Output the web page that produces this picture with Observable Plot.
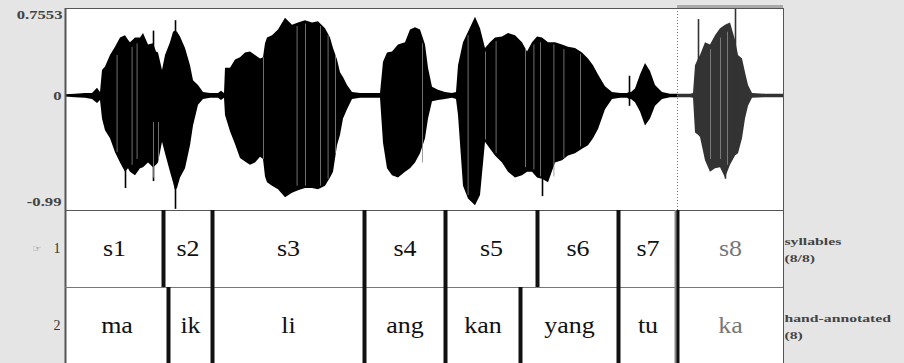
<!DOCTYPE html>
<html>
<head>
<meta charset="utf-8">
<script src="https://cdn.jsdelivr.net/npm/d3@7"></script>
<script src="https://cdn.jsdelivr.net/npm/@observablehq/plot@0.6"></script>
<style>
  html, body { margin: 0; padding: 0; background: #e5e5e5; overflow: hidden; }
  #chart { width: 904px; height: 363px; overflow: hidden; }
  #chart svg { display: block; }
</style>
</head>
<body>
<div id="chart"></div>
<script>
// ---------- data ----------
const totalDur = 3.59;          // seconds shown
const selStart = 3.06;          // selected interval start (s8)
const yMax = 0.7553, yMin = -0.99;
const yTickValues = [0.7553, 0, -0.99];
const yTickLabels = ["0.7553", "0", "-0.99"];

// waveform envelope (seconds, upper peak, lower peak)
const times = [0,0.05,0.10,0.135,0.16,0.175,0.185,0.20,0.225,0.25,0.275,0.30,0.315,0.325,0.35,0.375,0.39,0.415,0.44,0.455,0.465,0.485,0.50,0.525,0.54,0.55,0.56,0.575,0.60,0.625,0.64,0.665,0.69,0.725,0.765,0.78,0.795,0.80,0.825,0.85,0.875,0.90,0.925,0.95,0.975,0.99,1.00,1.01,1.035,1.065,1.10,1.135,1.165,1.20,1.235,1.265,1.30,1.325,1.34,1.36,1.375,1.39,1.41,1.435,1.475,1.525,1.575,1.59,1.61,1.635,1.665,1.70,1.725,1.75,1.775,1.80,1.815,1.835,1.865,1.90,1.935,1.955,1.965,1.99,2.015,2.05,2.075,2.10,2.125,2.15,2.185,2.215,2.25,2.285,2.31,2.335,2.36,2.385,2.415,2.45,2.485,2.515,2.55,2.585,2.615,2.64,2.665,2.70,2.735,2.775,2.81,2.82,2.83,2.85,2.875,2.90,2.925,2.95,2.985,3.025,3.06,3.075,3.125,3.14,3.15,3.165,3.175,3.20,3.225,3.25,3.275,3.30,3.325,3.35,3.365,3.385,3.40,3.415,3.435,3.50,3.59];
const upper = [0.01,0.015,0.02,0.02,0.066,0.03,0.22,0.25,0.35,0.42,0.50,0.52,0.48,0.46,0.50,0.50,0.54,0.44,0.45,0.38,0.37,0.22,0.35,0.46,0.55,0.56,0.55,0.51,0.41,0.26,0.13,0.09,0.03,0.02,0.02,0.04,0.02,0.24,0.24,0.31,0.33,0.37,0.38,0.35,0.32,0.33,0.45,0.50,0.52,0.57,0.67,0.61,0.63,0.65,0.63,0.64,0.58,0.50,0.41,0.31,0.20,0.16,0.09,0.03,0.02,0.02,0.02,0.29,0.37,0.38,0.44,0.46,0.57,0.59,0.57,0.44,0.24,0.075,0.05,0.03,0.02,0.03,0.26,0.46,0.55,0.68,0.58,0.41,0.46,0.50,0.51,0.54,0.52,0.46,0.38,0.46,0.51,0.50,0.46,0.46,0.44,0.42,0.41,0.37,0.32,0.26,0.18,0.08,0.03,0.02,0.02,0.03,0.03,0.06,0.18,0.28,0.21,0.09,0.03,0.015,0.015,0.015,0.015,0.02,0.26,0.32,0.35,0.46,0.44,0.52,0.58,0.61,0.63,0.48,0.35,0.32,0.20,0.09,0.02,0.015,0.015];
const lower = [-0.01,-0.015,-0.02,-0.03,-0.066,-0.04,-0.20,-0.30,-0.37,-0.49,-0.58,-0.66,-0.63,-0.66,-0.69,-0.63,-0.62,-0.58,-0.62,-0.60,-0.58,-0.40,-0.50,-0.66,-0.75,-0.82,-0.80,-0.71,-0.63,-0.43,-0.26,-0.08,-0.03,-0.02,-0.02,-0.04,-0.02,-0.17,-0.31,-0.42,-0.54,-0.57,-0.60,-0.58,-0.53,-0.55,-0.70,-0.75,-0.78,-0.81,-0.88,-0.84,-0.82,-0.80,-0.80,-0.81,-0.78,-0.71,-0.66,-0.43,-0.34,-0.20,-0.12,-0.03,-0.02,-0.02,-0.02,-0.41,-0.63,-0.69,-0.71,-0.66,-0.63,-0.58,-0.50,-0.37,-0.20,-0.05,-0.04,-0.03,-0.02,-0.03,-0.17,-0.78,-0.89,-0.95,-0.86,-0.40,-0.46,-0.52,-0.58,-0.66,-0.71,-0.69,-0.66,-0.66,-0.71,-0.72,-0.75,-0.58,-0.56,-0.52,-0.50,-0.46,-0.43,-0.37,-0.29,-0.12,-0.03,-0.02,-0.02,-0.03,-0.03,-0.06,-0.14,-0.26,-0.20,-0.09,-0.03,-0.015,-0.015,-0.015,-0.015,-0.02,-0.32,-0.34,-0.36,-0.56,-0.66,-0.63,-0.62,-0.71,-0.60,-0.52,-0.50,-0.37,-0.20,-0.09,-0.02,-0.015,-0.015];

// isolated sharp peaks (seconds, top, bottom)
const spikeTimes  = [0.30, 0.44, 0.55, 2.385, 2.82, 3.165, 3.35, 3.30];
const spikeTop    = [0.45, 0.56, 0.65, 0.30, 0.17, 0.66, 0.76, 0.55];
const spikeBottom = [-0.80, -0.74, -0.98, -0.87, -0.09, -0.30, -0.40, -0.72];

// light vertical streaks inside the dense waveform (seconds, top, bottom)
const streakTimes  = [0.258, 0.333, 0.358, 0.44, 0.465, 0.99, 1.158, 1.20, 1.275, 1.313, 1.35, 1.785, 2.013, 2.10, 2.153, 2.30, 2.342, 2.375, 2.442, 2.492, 2.575, 3.225, 3.275, 3.31];
const streakTop    = [0.35, 0.42, 0.45, -0.23, -0.23, 0.33, 0.60, 0.62, 0.60, 0.52, 0.35, 0.45, 0.52, 0.38, 0.47, 0.40, 0.44, 0.46, 0.44, 0.40, 0.36, 0.40, 0.50, 0.55];
const streakBottom = [-0.49, -0.60, -0.55, -0.71, -0.55, -0.55, -0.78, -0.78, -0.78, -0.72, -0.50, -0.58, -0.86, -0.38, -0.50, -0.62, -0.64, -0.70, -0.70, -0.54, -0.44, -0.55, -0.55, -0.60];

// TextGrid tiers
const tierNames = ["syllables\n(8/8)", "hand-annotated\n(8)"];
const tierNumbers = ["1", "2"];
const sylStarts = [0, 0.49, 0.735, 1.495, 1.90, 2.36, 2.765, 3.06];
const sylLabels = ["s1","s2","s3","s4","s5","s6","s7","s8"];
const handStarts = [0, 0.515, 0.735, 1.495, 1.90, 2.275, 2.765, 3.06];
const handLabels = ["ma","ik","li","ang","kan","yang","tu","ka"];

// ---------- build ----------
const wave = times.map((t, i) => ({t, hi: upper[i], lo: lower[i]}));
const spikes = spikeTimes.map((t, i) => ({t, hi: spikeTop[i], lo: spikeBottom[i]}));
const streaks = streakTimes.map((t, i) => ({t, hi: streakTop[i], lo: streakBottom[i]}));
function intervals(starts, labels, tier) {
  return starts.map((s, i) => ({
    start: s, end: i + 1 < starts.length ? starts[i + 1] : totalDur,
    label: labels[i], tier
  }));
}
const tier1 = intervals(sylStarts, sylLabels, 0);
const tier2 = intervals(handStarts, handLabels, 1);
const all = tier1.concat(tier2);
const bounds = all.filter(d => d.start > 0);
const waveColor = t => t >= selStart ? "#333" : "#000";

const serif = "'Liberation Serif', 'Times New Roman', serif";

const wavePlot = Plot.plot({
  width: 904, height: 210,
  marginLeft: 65, marginRight: 121, marginTop: 8, marginBottom: 0,
  x: {domain: [0, totalDur], axis: null},
  y: {domain: [yMin, yMax], axis: null},
  style: {background: "transparent", overflow: "visible", fontFamily: serif},
  marks: [
    Plot.frame({fill: "white"}),
    Plot.areaY(wave.filter(d => d.t <= selStart), {x: "t", y1: "lo", y2: "hi", fill: "#000"}),
    Plot.areaY(wave.filter(d => d.t >= selStart), {x: "t", y1: "lo", y2: "hi", fill: "#333"}),
    Plot.ruleX(spikes, {x: "t", y1: "lo", y2: "hi", stroke: d => waveColor(d.t), strokeWidth: 1.6}),
    Plot.ruleX(streaks, {x: "t", y1: "lo", y2: "hi", stroke: "#8a8a8a", strokeWidth: 0.8}),
    Plot.ruleX([selStart], {stroke: "#777", strokeDasharray: "1,2"}),
    Plot.ruleY([yMax], {x1: selStart, x2: totalDur, stroke: "#aaa", strokeWidth: 3, dy: -2}),
    Plot.frame({stroke: "#555"}),
    Plot.ruleX([0], {stroke: "#555", strokeWidth: 2}),
    Plot.text([yTickValues[0]], {y: d => d, text: [yTickLabels[0]], frameAnchor: "left", textAnchor: "end", dx: -3, dy: 7, fontSize: 11.5, fontWeight: "bold", fill: "#444"}),
    Plot.text([yTickValues[1]], {y: d => d, text: [yTickLabels[1]], frameAnchor: "left", textAnchor: "end", dx: -4, dy: 0, fontSize: 11.5, fontWeight: "bold", fill: "#444"}),
    Plot.text([yTickValues[2]], {y: d => d, text: [yTickLabels[2]], frameAnchor: "left", textAnchor: "end", dx: -4, dy: -8, fontSize: 11.5, fontWeight: "bold", fill: "#444"})
  ]
});

const tierPlot = Plot.plot({
  width: 904, height: 154,
  marginLeft: 65, marginRight: 121, marginTop: 0, marginBottom: 0,
  x: {domain: [0, totalDur], axis: null},
  y: {domain: [0, 2], reverse: true, axis: null},
  style: {background: "transparent", overflow: "visible", fontFamily: serif},
  marks: [
    Plot.frame({fill: "white", stroke: "#555"}),
    Plot.ruleX([0], {stroke: "#555", strokeWidth: 2}),
    Plot.ruleY([1], {stroke: "#777"}),
    Plot.ruleX(bounds, {x: "start", y1: "tier", y2: d => d.tier + 1, stroke: "#111", strokeWidth: 4}),
    Plot.ruleX([selStart], {y1: 0, y2: 2, stroke: "#888", strokeWidth: 2, dx: -2}),
    Plot.text(all, {x: d => (d.start + d.end) / 2, y: d => d.tier + 0.5, text: "label",
      fontSize: 23, fill: d => d.start >= selStart ? "#777" : "#111"}),
    Plot.text(tierNumbers, {y: (d, i) => i + 0.5, text: d => d, frameAnchor: "left", textAnchor: "end", dx: -5, fontSize: 14, fill: "#333"}),
    Plot.text(["☞"], {y: 0.5, text: d => d, frameAnchor: "left", textAnchor: "end", dx: -24, fontSize: 10, fill: "#888", fontFamily: "DejaVu Sans"}),
    Plot.text(tierNames, {y: (d, i) => i + 0.5, text: d => d, frameAnchor: "right", textAnchor: "start", dx: 1, dy: -1, fontSize: 11.4, fontWeight: "bold", fill: "#444", lineHeight: 1.5})
  ]
});

// horizontal stretch of the text glyphs (style only)
const stretchBySize = {"23": 1.13, "11.5": 1.45, "11.4": 1.38};
function stretchText(svg) {
  svg.querySelectorAll("g[aria-label='text']").forEach(g => {
    const s = stretchBySize[g.getAttribute("font-size")];
    if (!s) return;
    g.querySelectorAll("text").forEach(t => {
      const tr = t.getAttribute("transform");
      if (tr) t.setAttribute("transform", tr + ` scale(${s},1)`);
      else {
        const x = +(t.getAttribute("x") || 0), y = +(t.getAttribute("y") || 0);
        t.removeAttribute("x"); t.removeAttribute("y");
        t.setAttribute("transform", `translate(${x},${y}) scale(${s},1)`);
      }
    });
  });
}
stretchText(wavePlot);
stretchText(tierPlot);

const chart = document.getElementById("chart");
chart.appendChild(wavePlot);
chart.appendChild(tierPlot);
</script>
</body>
</html>
